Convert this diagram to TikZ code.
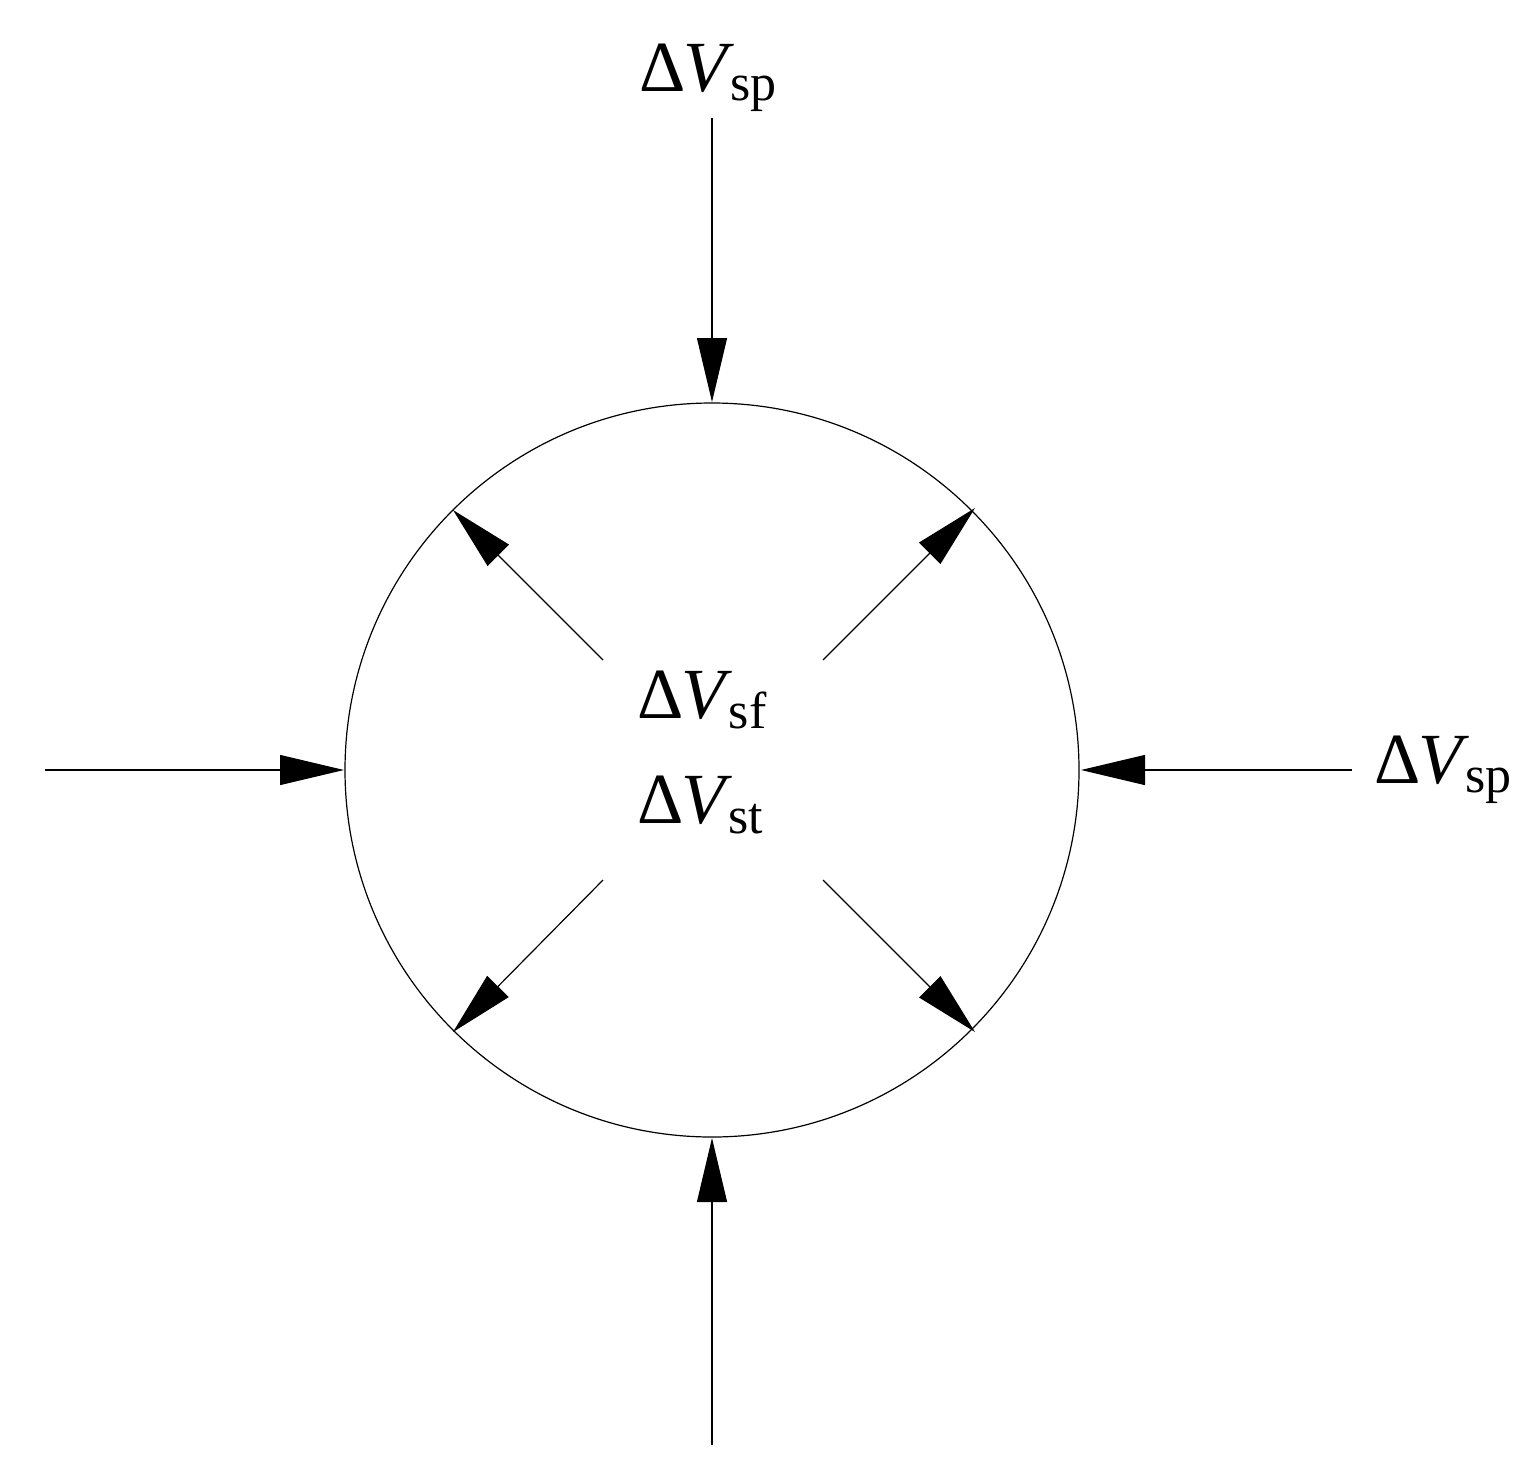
\documentclass[tikz,border=0pt]{standalone}
\usepackage{fontspec}
\setmainfont{Liberation Serif}
\usetikzlibrary{arrows.meta}
\newcommand{\dv}[1]{Δ\kern-1pt\textit{V}\kern-2pt\raisebox{-0.28ex}{\fontsize{26}{30}\selectfont #1}}
\begin{document}
\begin{tikzpicture}[x=0.5pt,y=-0.5pt,
  arr/.style={line width=0.6pt,-{Triangle[length=32pt,width=15pt]}},
  lbl/.style={font=\fontsize{36}{42}\selectfont,inner sep=0pt}]
\useasboundingbox (0,0) rectangle (1535,1477);
\node[draw,circle,minimum size=734*0.5pt,line width=0.6pt,inner sep=0pt] (c) at (712,770) {};
\node[lbl] (t) at (708,78) {\dv{sp}};
\node[lbl] (r) at (1443,770) {\dv{sp}};
\node[lbl] (m1) at (702,700) {\dv{sf}};
\node[lbl] (m2) at (700,805) {\dv{st}};
\coordinate (ts) at (712,118); \coordinate (te) at (712,402);
\coordinate (bs) at (712,1445); \coordinate (be) at (712,1138);
\coordinate (ls) at (45,770); \coordinate (le) at (344,770);
\coordinate (rs) at (1352,770); \coordinate (re) at (1081,770);
\draw[arr] (ts) -- (te);
\draw[arr] (bs) -- (be);
\draw[arr] (ls) -- (le);
\draw[arr] (rs) -- (re);
\coordinate (a1) at (603,660); \coordinate (b1) at (453,510);
\coordinate (a2) at (823,660); \coordinate (b2) at (975,508);
\coordinate (a3) at (603,880); \coordinate (b3) at (453,1032);
\coordinate (a4) at (823,880); \coordinate (b4) at (975,1032);
\draw[arr] (a1) -- (b1);
\draw[arr] (a2) -- (b2);
\draw[arr] (a3) -- (b3);
\draw[arr] (a4) -- (b4);
\end{tikzpicture}
\end{document}
